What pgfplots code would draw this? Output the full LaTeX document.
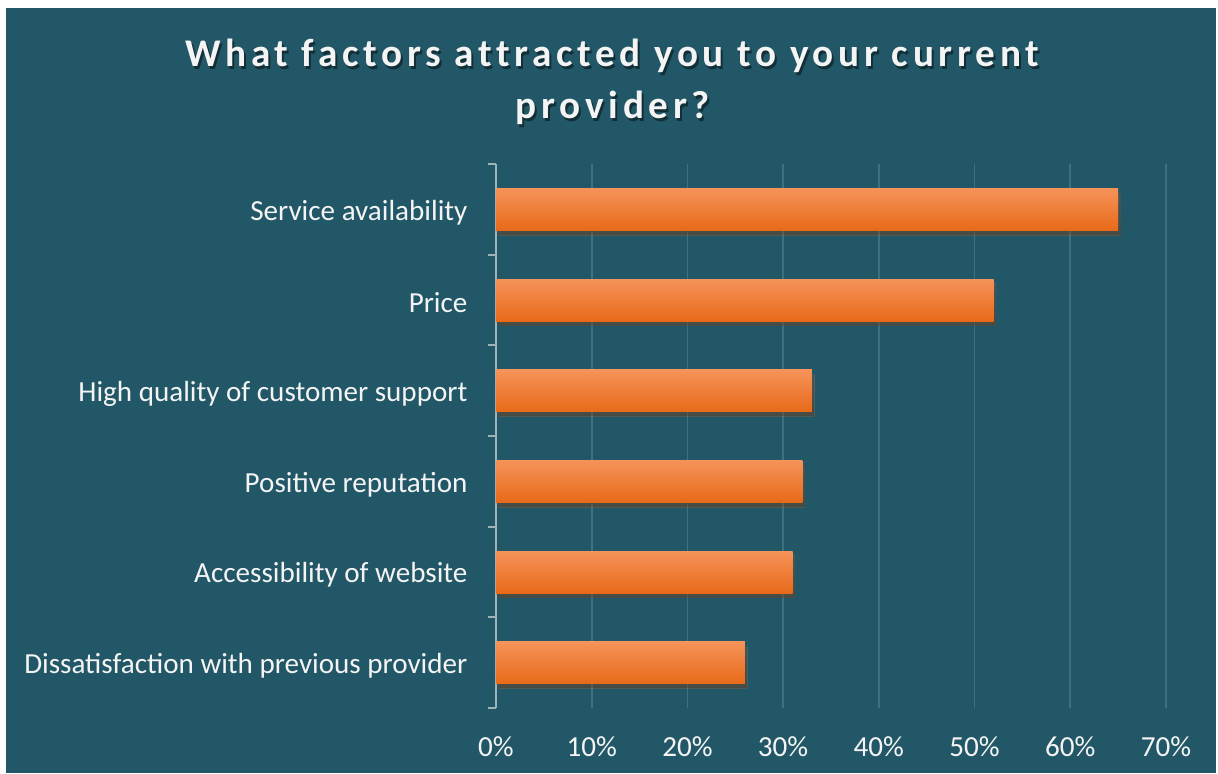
\documentclass[border=0pt]{standalone}
\usepackage{fontspec}
\setmainfont{Carlito}
\newfontfamily\titlefont[LetterSpace=12, Ligatures=NoCommon]{Carlito}
\usepackage{pgfplots}
\pgfplotsset{compat=1.18}
\usetikzlibrary{shadows}

\definecolor{bgteal}{HTML}{225767}
\definecolor{axisgray}{HTML}{9DB3B9}
\definecolor{gridc}{HTML}{416F7C}
\definecolor{bartop}{HTML}{F5935A}
\definecolor{barmid}{HTML}{F47D2D}
\definecolor{barbot}{HTML}{E86A19}
\definecolor{txt}{HTML}{F4F4F4}

\begin{document}
\begin{tikzpicture}
% page and chart area
\fill[white] (-248pt,-32.5pt) rectangle (361pt,354pt);
\fill[bgteal] (-245pt,-32.5pt) rectangle (360pt,350pt);

% title with soft shadow
\begin{scope}[every node/.style={anchor=base, font=\titlefont\bfseries\fontsize{19.6pt}{22pt}\selectfont}]
  \node[text=black, opacity=0.45] at (59pt,319.5pt) {What factors attracted you to your current};
  \node[text=black, opacity=0.45] at (59.5pt,293.5pt) {provider?};
  \node[text=txt] at (58pt,320.5pt) {What factors attracted you to your current};
  \node[text=txt] at (58.5pt,294.5pt) {provider?};
\end{scope}

\begin{axis}[
  at={(0,0)}, anchor=south west,
  scale only axis, width=335pt, height=272pt,
  xmin=0, xmax=70, ymin=-0.5, ymax=5.5,
  axis y line*=left, axis x line*=bottom,
  x axis line style={draw=none},
  y axis line style={draw=axisgray, line width=1pt, -},
  xtick={0,10,...,70},
  xticklabels={0\%,10\%,20\%,30\%,40\%,50\%,60\%,70\%},
  x tick style={draw=none},
  xmajorgrids, grid style={gridc, line width=0.9pt},
  ytick={0,...,5},
  yticklabels={Dissatisfaction with previous provider,Accessibility of website,Positive reputation,High quality of customer support,Price,Service availability},
  major y tick style={draw=none},
  minor ytick={-0.5,0.5,...,5.5},
  minor tick length=4pt, tick align=outside,
  minor y tick style={axisgray, line width=1pt},
  ticklabel style={font=\fontsize{14.55pt}{16pt}\selectfont, text=txt},
  yticklabel style={xshift=-6.5pt, yshift=-1.5pt},
  xticklabel style={yshift=-6.5pt},
  orangebar/.style={xbar, bar width=21pt, bar shift=0pt, draw=none, mark=none,
    top color=bartop, middle color=barmid, bottom color=barbot,
    drop shadow={shadow xshift=1.2pt, shadow yshift=-2.4pt, opacity=0.22, fill=black}},
]
\addplot[orangebar] coordinates {(26,0)};
\addplot[orangebar] coordinates {(31,1)};
\addplot[orangebar] coordinates {(32,2)};
\addplot[orangebar] coordinates {(33,3)};
\addplot[orangebar] coordinates {(52,4)};
\addplot[orangebar] coordinates {(65,5)};
\end{axis}
\end{tikzpicture}
\end{document}
